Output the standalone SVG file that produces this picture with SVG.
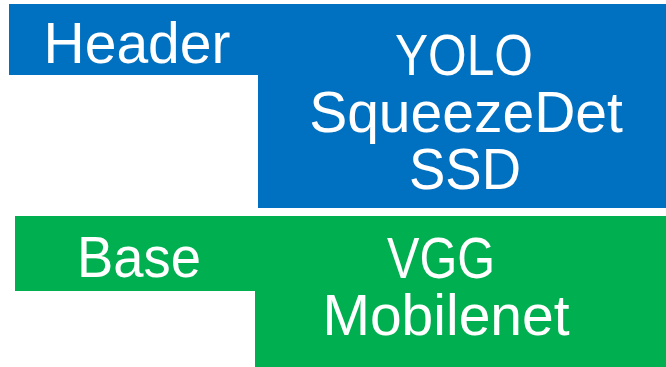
<svg xmlns="http://www.w3.org/2000/svg" width="666" height="367" viewBox="0 0 666 367">
<style>
.lbl{font-family:"Liberation Sans",Arial,sans-serif;font-size:57px;fill:#FFFFFF;text-anchor:middle}
.blue{fill:#0070C0}
.green{fill:#00B050}
</style>
<rect width="666" height="367" fill="#FFFFFF"/>
<g id="header">
<path class="blue" d="M9 4H666V208H258V75H9Z"/>
<text class="lbl" x="137" y="63">Header</text>
<text class="lbl" x="464" y="75" textLength="138" lengthAdjust="spacingAndGlyphs">YOLO</text>
<text class="lbl" x="466" y="132">SqueezeDet</text>
<text class="lbl" x="465" y="189" textLength="112" lengthAdjust="spacingAndGlyphs">SSD</text>
</g>
<g id="base">
<path class="green" d="M15 216H666V367H255V291H15Z"/>
<text class="lbl" x="139" y="277" textLength="124" lengthAdjust="spacingAndGlyphs">Base</text>
<text class="lbl" x="441" y="278" textLength="108" lengthAdjust="spacingAndGlyphs">VGG</text>
<text class="lbl" x="446" y="335">Mobilenet</text>
</g>
</svg>
